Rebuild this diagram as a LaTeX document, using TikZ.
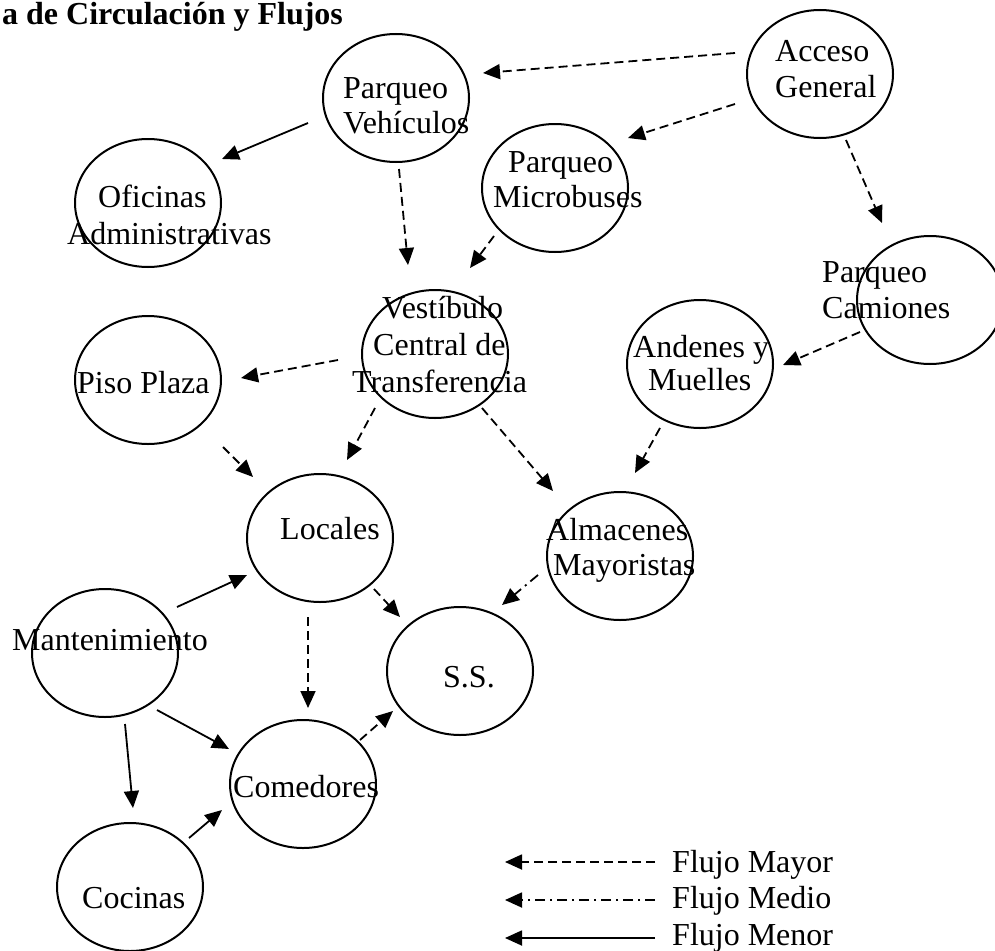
\documentclass[tikz,border=0pt]{standalone}
\usepackage{fontspec}
\setmainfont{Liberation Serif}
\usetikzlibrary{shapes.geometric,arrows.meta,calc}
\begin{document}
\begin{tikzpicture}[x=1pt,y=-1pt,
  zone/.style={draw, ellipse, line width=2pt, minimum width=146pt, minimum height=128pt, inner sep=0pt},
  lbl/.style={anchor=base west, inner sep=0pt, font=\fontsize{32}{37}\selectfont},
  flowbase/.style={line width=1.8pt, -{Triangle[length=17pt,width=15pt]}},
  flowmajor/.style={flowbase, dash pattern=on 9pt off 5pt},
  flowmedium/.style={flowbase, dash pattern=on 10pt off 5pt on 2pt off 5pt},
  flowminor/.style={flowbase}]
\useasboundingbox (0,0) rectangle (995,950);

% title
\node[lbl, font=\fontsize{32}{37}\selectfont\bfseries] (title) at (2,25) {a de Circulación y Flujos};

% zones
\node[zone] (ag) at (820,74) {};
\node[zone] (pv) at (396,98) {};
\node[zone] (pm) at (555,188) {};
\node[zone] (of) at (148,203) {};
\node[zone] (pc) at (930,300) {};
\node[zone] (vc) at (435,354) {};
\node[zone] (pp) at (148,380) {};
\node[zone] (am) at (700,364) {};
\node[zone] (lo) at (320,538) {};
\node[zone] (al) at (620,556) {};
\node[zone] (ma) at (105,653) {};
\node[zone] (ss) at (460,671) {};
\node[zone] (co) at (303,784) {};
\node[zone] (cn) at (130,887) {};

% labels
\node[lbl] (tag1) at (775,62) {Acceso};
\node[lbl] (tag2) at (775,97) {General};
\node[lbl] (tpv1) at (343,98) {Parqueo};
\node[lbl] (tpv2) at (343,133) {Vehículos};
\node[lbl] (tpm1) at (508,172) {Parqueo};
\node[lbl] (tpm2) at (493,207) {Microbuses};
\node[lbl] (tof1) at (98,207) {Oficinas};
\node[lbl] (tof2) at (67,244) {Administrativas};
\node[lbl] (tpc1) at (822,282) {Parqueo};
\node[lbl] (tpc2) at (822,318) {Camiones};
\node[lbl] (tvc1) at (382,318) {Vestíbulo};
\node[lbl] (tvc2) at (373,355) {Central de};
\node[lbl] (tvc3) at (352,392) {Transferencia};
\node[lbl] (tpp) at (77,393) {Piso Plaza};
\node[lbl] (tam1) at (633,357) {Andenes y};
\node[lbl] (tam2) at (648,390) {Muelles};
\node[lbl] (tlo) at (280,539) {Locales};
\node[lbl] (tal1) at (546,540) {Almacenes};
\node[lbl] (tal2) at (553,575) {Mayoristas};
\node[lbl] (tma) at (12,650) {Mantenimiento};
\node[lbl] (tss) at (443,687) {S.S.};
\node[lbl] (tco) at (233,797) {Comedores};
\node[lbl] (tcn) at (82,908) {Cocinas};

% flows
\draw[flowmajor] ($(ag)+(-85,-21)$) -- ($(pv)+(87,-25)$);
\draw[flowmajor] ($(ag)+(-85,30)$) -- ($(pm)+(73,-50)$);
\draw[flowmajor] ($(ag)+(26,66)$) -- ($(pc)+(-48,-77)$);
\draw[flowminor] ($(pv)+(-88,25)$) -- ($(of)+(74,-44)$);
\draw[flowmajor] ($(pv)+(3,71)$) -- ($(vc)+(-27,-89)$);
\draw[flowmajor] ($(pm)+(-61,48)$) -- ($(vc)+(35,-86)$);
\draw[flowmajor] ($(pc)+(-70,32)$) -- ($(am)+(83,1)$);
\draw[flowmajor] ($(vc)+(-97,6)$) -- ($(pp)+(93,-2)$);
\draw[flowmajor] ($(vc)+(-60,54)$) -- ($(lo)+(27,-78)$);
\draw[flowmajor] ($(vc)+(47,54)$) -- ($(al)+(-67,-65)$);
\draw[flowmajor] ($(pp)+(75,67)$) -- ($(lo)+(-67,-61)$);
\draw[flowmajor] ($(am)+(-40,64)$) -- ($(al)+(15,-83)$);
\draw[flowmajor] ($(lo)+(54,51)$) -- ($(ss)+(-60,-54)$);
\draw[flowmedium] ($(al)+(-82,19)$) -- ($(ss)+(42,-66)$);
\draw[flowmajor] ($(lo)+(-12,79)$) -- ($(co)+(5,-76)$);
\draw[flowmajor] ($(co)+(57,-44)$) -- ($(ss)+(-67,40)$);
\draw[flowminor] ($(ma)+(72,-46)$) -- ($(lo)+(-73,37)$);
\draw[flowminor] ($(ma)+(52,57)$) -- ($(co)+(-74,-35)$);
\draw[flowminor] ($(ma)+(20,71)$) -- ($(cn)+(3,-79)$);
\draw[flowminor] ($(cn)+(59,-49)$) -- ($(co)+(-81,26)$);

% legend
\coordinate (l1s) at (655,862); \coordinate (l1e) at (505,862);
\coordinate (l2s) at (655,900); \coordinate (l2e) at (505,900);
\coordinate (l3s) at (655,938); \coordinate (l3e) at (505,938);
\draw[flowmajor] (l1s) -- (l1e);
\draw[flowmedium] (l2s) -- (l2e);
\draw[flowminor] (l3s) -- (l3e);
\node[lbl] (leg1) at (672,872) {Flujo Mayor};
\node[lbl] (leg2) at (672,908) {Flujo Medio};
\node[lbl] (leg3) at (672,945) {Flujo Menor};
\end{tikzpicture}
\end{document}
